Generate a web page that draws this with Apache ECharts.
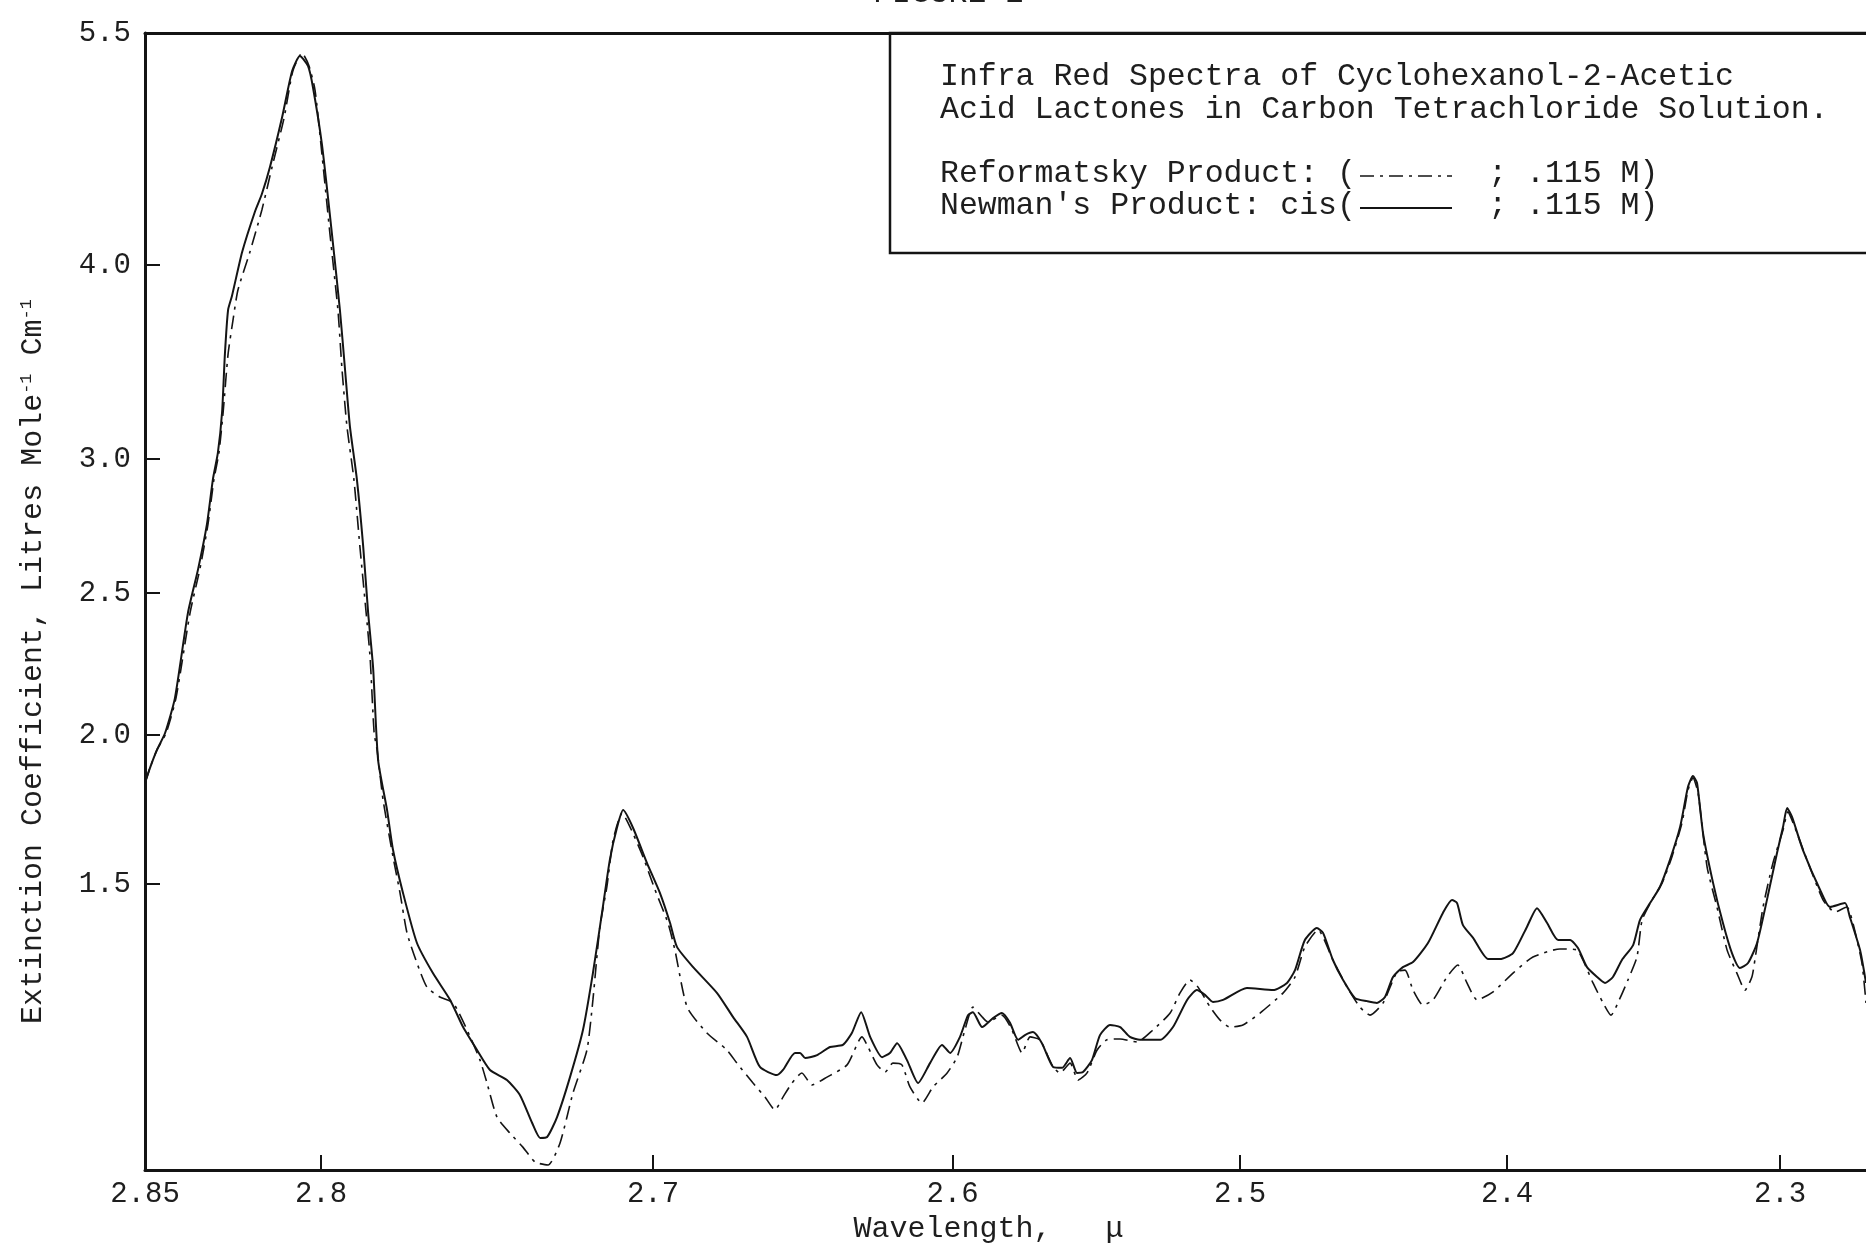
<!DOCTYPE html>
<html>
<head>
<meta charset="utf-8">
<script src="https://cdn.jsdelivr.net/npm/echarts@6/dist/echarts.min.js"></script>
<style>
html,body{margin:0;padding:0;background:#fff;}
#chart{width:1866px;height:1250px;}
</style>
</head>
<body>
<div id="chart"></div>
<script>
// ---------------- data ----------------
// Wavelength ticks (micron) and extinction-coefficient ticks
const WL_TICKS = [2.85, 2.8, 2.7, 2.6, 2.5, 2.4, 2.3];
const WL_TICK_LABELS = ['2.85', '2.8', '2.7', '2.6', '2.5', '2.4', '2.3'];
const E_TICKS = [1.5, 2.0, 2.5, 3.0, 4.0, 5.5];
const E_TICK_LABELS = ['1.5', '2.0', '2.5', '3.0', '4.0', '5.5'];
const WL_END = 2.2685; // right end of the visible chart paper

// Newman's Product: cis (solid line)
const NEW_WL = [
2.85,2.8486,2.8466,2.8443,2.8415,2.8378,2.8349,2.8324,2.8307,2.8293,
2.8281,2.8273,2.8264,2.8253,2.8224,2.8188,2.8168,2.8145,2.8111,2.8082,
2.8060,2.8037,2.8023,2.7997,2.7967,2.7943,2.7928,2.7913,2.7892,2.7873,
2.7858,2.7843,2.7828,2.7801,2.7783,2.7753,2.7711,2.7663,2.7611,2.7572,
2.7530,2.7491,2.7440,2.7401,2.7364,2.7340,2.7319,2.7289,2.7250,2.7211,
2.7181,2.7151,2.7130,2.7108,2.7090,2.7060,2.7018,2.6977,2.6943,2.6920,
2.6866,2.6786,2.6733,2.6686,2.6643,2.6586,2.6566,2.6526,2.6509,2.6492,
2.6452,2.6409,2.6366,2.6336,2.6305,2.6275,2.6235,2.6209,2.6185,2.6152,
2.6115,2.6075,2.6035,2.6008,2.5974,2.5946,2.5929,2.5897,2.5859,2.5828,
2.5800,2.5772,2.5748,2.5720,2.5689,2.5650,2.5619,2.5591,2.5567,2.5546,
2.5515,2.5487,2.5452,2.5417,2.5383,2.5348,2.5278,2.5233,2.5184,2.5150,
2.5122,2.5094,2.5059,2.4974,2.4876,2.4824,2.4794,2.4757,2.4712,2.4689,
2.4652,2.4614,2.4569,2.4524,2.4487,2.4457,2.4427,2.4390,2.4352,2.4296,
2.4240,2.4206,2.4187,2.4165,2.4127,2.4071,2.4026,2.3978,2.3927,2.3890,
2.3853,2.3813,2.3769,2.3740,2.3707,2.3670,2.3641,2.3612,2.3579,2.3538,
2.3513,2.3476,2.3440,2.3403,2.3366,2.3337,2.3319,2.3304,2.3282,2.3245,
2.3209,2.3176,2.3147,2.3117,2.3084,2.3048,2.3011,2.2989,2.2974,2.2956,
2.2916,2.2853,2.2817,2.2762,2.2744,2.2707,2.2685];
const NEW_E = [
1.839,1.889,1.950,2.007,2.130,2.430,2.590,2.757,2.925,3.031,
3.242,3.541,3.768,3.840,4.084,4.343,4.459,4.634,4.950,5.254,
5.351,5.287,5.151,4.776,4.200,3.768,3.469,3.170,2.925,2.675,
2.430,2.236,1.916,1.748,1.614,1.470,1.302,1.201,1.111,1.020,
0.943,0.876,0.842,0.792,0.698,0.648,0.651,0.718,0.852,1.010,
1.201,1.423,1.581,1.691,1.748,1.688,1.570,1.470,1.369,1.289,
1.221,1.134,1.054,0.987,0.886,0.859,0.876,0.933,0.933,0.916,
0.926,0.953,0.960,1.000,1.070,0.987,0.919,0.933,0.966,0.909,
0.832,0.899,0.960,0.933,0.987,1.060,1.070,1.020,1.050,1.067,
1.034,0.977,0.993,1.003,0.966,0.886,0.883,0.916,0.866,0.869,
0.909,0.993,1.027,1.020,0.987,0.977,0.977,1.020,1.111,1.144,
1.128,1.104,1.111,1.151,1.144,1.168,1.211,1.312,1.352,1.336,
1.245,1.178,1.117,1.107,1.101,1.121,1.188,1.221,1.238,1.302,
1.403,1.446,1.436,1.362,1.319,1.248,1.248,1.268,1.356,1.419,
1.369,1.312,1.312,1.285,1.221,1.188,1.168,1.188,1.245,1.295,
1.379,1.436,1.490,1.581,1.691,1.826,1.862,1.839,1.671,1.503,
1.369,1.268,1.218,1.235,1.302,1.446,1.604,1.691,1.755,1.725,
1.614,1.480,1.423,1.436,1.389,1.279,1.168];

// Reformatsky Product (dash-dot line)
const REF_WL = [
2.85,2.8486,2.8466,2.8440,2.8412,2.8372,2.8344,2.8321,2.8304,2.8290,
2.8278,2.8264,2.8250,2.8236,2.8202,2.8168,2.8139,2.8105,2.8080,2.8054,
2.8034,2.8017,2.8000,2.7973,2.7949,2.7937,2.7922,2.7901,2.7883,2.7864,
2.7852,2.7840,2.7831,2.7813,2.7783,2.7762,2.7741,2.7711,2.7681,2.7642,
2.7602,2.7560,2.7521,2.7500,2.7470,2.7431,2.7392,2.7355,2.7316,2.7280,
2.7241,2.7199,2.7181,2.7160,2.7139,2.7120,2.7093,2.7069,2.7030,2.6993,
2.6950,2.6927,2.6886,2.6820,2.6753,2.6720,2.6666,2.6626,2.6593,2.6566,
2.6536,2.6503,2.6469,2.6419,2.6352,2.6302,2.6282,2.6252,2.6225,2.6199,
2.6169,2.6142,2.6102,2.6065,2.6018,2.5984,2.5957,2.5929,2.5897,2.5877,
2.5828,2.5793,2.5758,2.5730,2.5696,2.5650,2.5626,2.5591,2.5563,2.5532,
2.5497,2.5463,2.5417,2.5358,2.5303,2.5243,2.5209,2.5174,2.5146,2.5104,
2.5070,2.5035,2.4989,2.4925,2.4839,2.4794,2.4757,2.4708,2.4652,2.4599,
2.4551,2.4513,2.4464,2.4412,2.4382,2.4352,2.4315,2.4277,2.4225,2.4184,
2.4150,2.4112,2.4052,2.3978,2.3905,2.3806,2.3744,2.3722,2.3685,2.3648,
2.3619,2.3586,2.3557,2.3524,2.3505,2.3469,2.3432,2.3396,2.3359,2.3337,
2.3319,2.3300,2.3267,2.3231,2.3194,2.3158,2.3128,2.3103,2.3092,2.3062,
2.3026,2.2989,2.2971,2.2952,2.2901,2.2842,2.2799,2.2755,2.2733,2.2700,
2.2685];
const REF_E = [
1.839,1.889,1.950,2.007,2.130,2.430,2.590,2.757,2.925,3.031,
3.242,3.541,3.716,3.871,4.084,4.356,4.634,4.950,5.254,5.371,
5.287,5.131,4.776,4.200,3.768,3.469,3.170,2.925,2.675,2.430,
2.271,2.007,1.950,1.782,1.591,1.470,1.336,1.235,1.154,1.121,
1.101,1.010,0.909,0.832,0.718,0.664,0.617,0.567,0.557,0.631,
0.799,0.943,1.111,1.356,1.490,1.648,1.738,1.691,1.591,1.480,
1.369,1.279,1.087,1.000,0.943,0.899,0.832,0.785,0.742,0.785,
0.832,0.866,0.826,0.852,0.893,0.987,0.953,0.893,0.869,0.899,
0.893,0.819,0.765,0.819,0.866,0.919,1.010,1.087,1.054,1.037,
1.060,1.010,0.933,0.987,0.977,0.886,0.866,0.899,0.842,0.866,
0.943,0.977,0.980,0.970,1.010,1.067,1.134,1.178,1.154,1.087,
1.044,1.020,1.027,1.067,1.134,1.188,1.289,1.346,1.245,1.154,
1.087,1.060,1.101,1.205,1.211,1.144,1.094,1.111,1.188,1.228,
1.168,1.111,1.138,1.201,1.255,1.282,1.279,1.245,1.168,1.101,
1.060,1.117,1.178,1.255,1.379,1.446,1.503,1.591,1.705,1.815,
1.856,1.805,1.557,1.423,1.279,1.201,1.144,1.188,1.245,1.423,
1.570,1.681,1.742,1.705,1.581,1.446,1.406,1.423,1.369,1.235,
1.101];

// ---------------- non-linear chart-paper scales ----------------
// The original paper is ruled non-linearly on both axes; these calibrate
// each labelled tick to a uniform "paper unit" coordinate.
const WL_PAPER = [0, 176, 508, 807.5, 1095, 1362, 1635];
const E_PAPER  = [286, 435, 577, 711, 905, 1137];

function interp(v, xs, ys) {
  const n = xs.length;
  const dir = xs[n - 1] > xs[0] ? 1 : -1;
  let i = 0;
  while (i < n - 2 && (v - xs[i + 1]) * dir > 0) i++;
  return ys[i] + (v - xs[i]) * (ys[i + 1] - ys[i]) / (xs[i + 1] - xs[i]);
}
const xOf = w => interp(w, WL_TICKS, WL_PAPER);
const yOf = e => interp(e, E_TICKS, E_PAPER);

const X_MAX = xOf(WL_END);
const Y_MAX = yOf(5.5);
const X_TICK_POS = WL_TICKS.map(xOf);
const Y_TICK_POS = E_TICKS.map(yOf);

function labelFor(v, pos, labels) {
  for (let i = 0; i < pos.length; i++) if (Math.abs(pos[i] - v) < 0.5) return labels[i];
  return '';
}

const FONT = '"Liberation Mono", "DejaVu Sans Mono", monospace';
const INK = '#141414';
const TEXT = '#1e1e1e';

const chart = echarts.init(document.getElementById('chart'), null, {renderer: 'canvas'});

const option = {
  animation: false,
  backgroundColor: '#ffffff',
  title: {
    text: 'FIGURE 2',
    left: 868,
    top: -27,
    textStyle: {fontFamily: FONT, fontSize: 31.5, fontWeight: 'normal', color: TEXT}
  },
  grid: {left: 145, right: 0, top: 33, bottom: 80, containLabel: false},
  xAxis: [{
    type: 'value',
    min: 0,
    max: X_MAX,
    position: 'bottom',
    axisLine: {show: true, lineStyle: {color: INK, width: 3}},
    axisTick: {show: true, inside: true, length: 15, customValues: X_TICK_POS, lineStyle: {color: INK, width: 2}},
    axisLabel: {
      customValues: X_TICK_POS,
      formatter: v => labelFor(v, X_TICK_POS, WL_TICK_LABELS),
      fontFamily: FONT, fontSize: 29, color: TEXT, margin: 10
    },
    splitLine: {show: false},
    name: 'Wavelength,   \u03bc',
    nameLocation: 'middle',
    nameGap: 40,
    nameTextStyle: {fontFamily: FONT, fontSize: 30, color: TEXT, padding: [0, 34, 0, 0]}
  }, {
    type: 'value',
    min: 0,
    max: X_MAX,
    position: 'top',
    axisLine: {show: true, lineStyle: {color: INK, width: 3}},
    axisTick: {show: false},
    axisLabel: {show: false},
    splitLine: {show: false}
  }],
  yAxis: {
    type: 'value',
    min: 0,
    max: Y_MAX,
    axisLine: {show: true, lineStyle: {color: INK, width: 3}},
    axisTick: {show: true, inside: true, length: 15, customValues: Y_TICK_POS, lineStyle: {color: INK, width: 2}},
    axisLabel: {
      customValues: Y_TICK_POS,
      formatter: v => labelFor(v, Y_TICK_POS, E_TICK_LABELS),
      fontFamily: FONT, fontSize: 29, color: TEXT, margin: 14,
      padding: [0, 0, 10, 0]
    },
    splitLine: {show: false},
    name: 'Extinction Coefficient, Litres Mole{sup|-1} Cm{sup|-1}',
    nameLocation: 'middle',
    nameGap: 97,
    nameTextStyle: {
      fontFamily: FONT, fontSize: 30, color: TEXT,
      padding: [0, 120, 0, 0],
      rich: {sup: {fontFamily: FONT, fontSize: 17, color: TEXT, verticalAlign: 'top', lineHeight: 18}}
    }
  },
  series: [{
    name: "Newman's Product: cis",
    type: 'line',
    xAxisIndex: 0,
    data: NEW_WL.map((w, i) => [xOf(w), yOf(NEW_E[i])]),
    showSymbol: false,
    smooth: 0.2,
    clip: true,
    lineStyle: {color: INK, width: 2}
  }, {
    name: 'Reformatsky Product',
    type: 'line',
    xAxisIndex: 0,
    data: REF_WL.map((w, i) => [xOf(w), yOf(REF_E[i])]),
    showSymbol: false,
    smooth: 0.2,
    clip: true,
    lineStyle: {color: INK, width: 1.6, type: [14, 6, 3, 6]}
  }],
  graphic: [{
    type: 'group',
    z: 100,
    children: [
      {type: 'rect', shape: {x: 890, y: 33, width: 1000, height: 220},
       style: {fill: '#ffffff', stroke: INK, lineWidth: 2.5}},
      {type: 'text', x: 940, y: 77,
       style: {text: 'Infra Red Spectra of Cyclohexanol-2-Acetic', fontFamily: FONT, fontSize: 31.5, fill: TEXT, verticalAlign: 'middle', align: 'left'}},
      {type: 'text', x: 940, y: 110,
       style: {text: 'Acid Lactones in Carbon Tetrachloride Solution.', fontFamily: FONT, fontSize: 31.5, fill: TEXT, verticalAlign: 'middle', align: 'left'}},
      {type: 'text', x: 940, y: 174,
       style: {text: 'Reformatsky Product: (       ; .115 M)', fontFamily: FONT, fontSize: 31.5, fill: TEXT, verticalAlign: 'middle', align: 'left'}},
      {type: 'text', x: 940, y: 206,
       style: {text: "Newman's Product: cis(       ; .115 M)", fontFamily: FONT, fontSize: 31.5, fill: TEXT, verticalAlign: 'middle', align: 'left'}},
      {type: 'line', shape: {x1: 1360, y1: 176, x2: 1452, y2: 176},
       style: {stroke: INK, lineWidth: 1.6, lineDash: [14, 6, 3, 6]}},
      {type: 'line', shape: {x1: 1360, y1: 208, x2: 1452, y2: 208},
       style: {stroke: INK, lineWidth: 1.8}}
    ]
  }]
};
chart.setOption(option);
</script>
</body>
</html>
